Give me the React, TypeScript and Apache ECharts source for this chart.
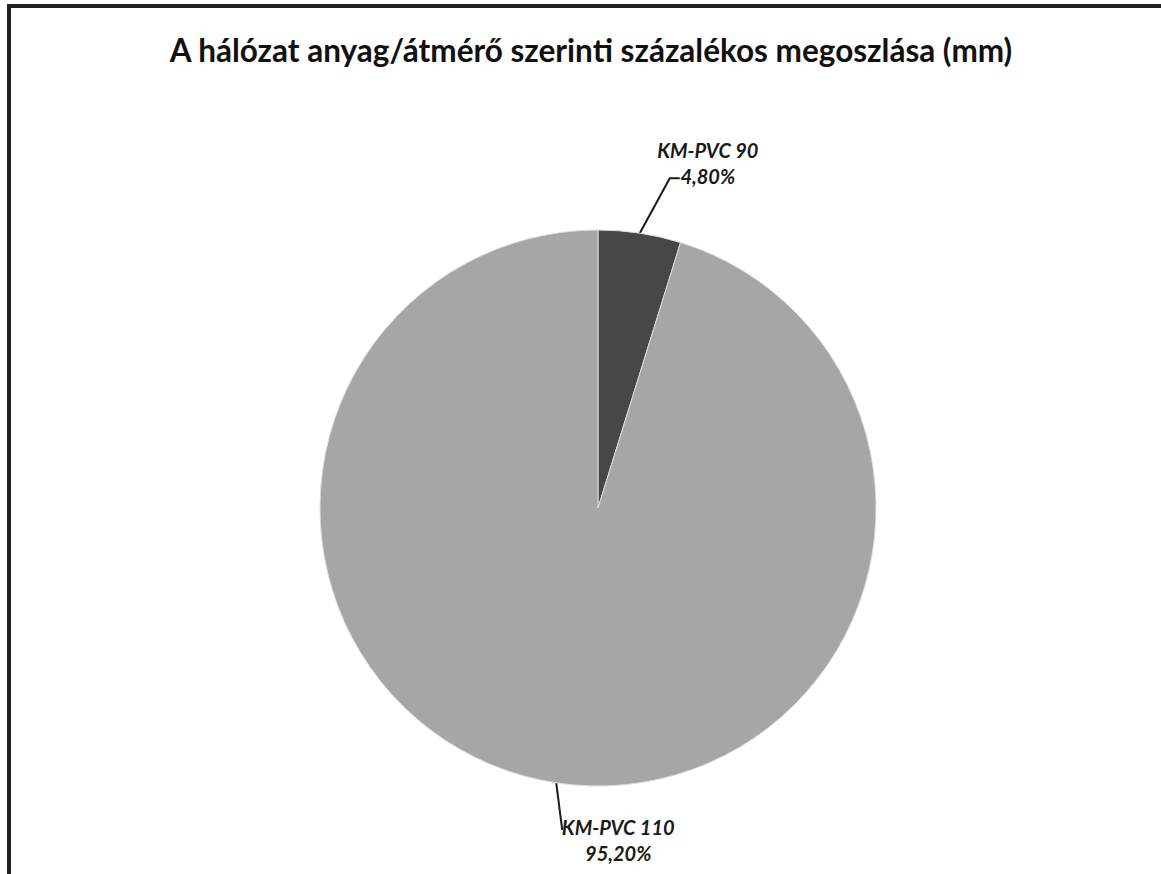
import React, { useEffect, useRef } from "react";
import * as echarts from "echarts";

const titleText = "A hálózat anyag/átmérő szerinti százalékos megoszlása (mm)";
const categories = ["KM-PVC 90", "KM-PVC 110"];
const values = [4.8, 95.2];
const valueLabels = ["4,80%", "95,20%"];
const colors = ["#474747", "#a6a6a9"];

export default function App() {
  const ref = useRef<HTMLDivElement>(null);
  useEffect(() => {
    if (!ref.current) return;
    const chart = echarts.init(ref.current, null, { renderer: "svg" });
    chart.setOption({
      animation: false,
      backgroundColor: "#ffffff",
      title: {
        text: titleText,
        left: 586,
        textAlign: "center",
        top: 29,
        textStyle: {
          fontFamily: "Lato",
          fontWeight: "bold",
          fontSize: 31.5,
          color: "#111111",
        },
      },
      graphic: [
        {
          type: "polyline",
          shape: { points: [[9, 874], [9, 6], [1161, 6]] },
          style: { stroke: "#222222", lineWidth: 4, fill: "none" },
          silent: true,
        },
      ],
      series: [
        {
          type: "pie",
          center: [598, 508],
          radius: 278,
          startAngle: 90,
          clockwise: true,
          data: categories.map((c, i) => ({
            name: c,
            value: values[i],
            itemStyle: { color: colors[i] },
          })),
          itemStyle: { borderColor: "#dcdcdc", borderWidth: 1 },
          label: {
            show: true,
            position: "outside",
            formatter: (p: any) => `{a|${p.name}}\n{a|${valueLabels[p.dataIndex]}}`,
            rich: {
              a: {
                fontFamily: "Lato",
                fontStyle: "italic",
                fontWeight: "bold",
                fontSize: 20,
                color: "#1a1a1a",
                lineHeight: 26,
                width: 130,
                align: "center",
              },
            },
          },
          labelLine: {
            show: true,
            length: 40,
            length2: 10,
            lineStyle: { color: "#1a1a1a", width: 2 },
          },
          labelLayout: (params: any) => {
            const pts = params.labelLinePoints;
            if (!pts) return {};
            const p0 = pts[0];
            if (params.dataIndex === 0) {
              return {
                x: p0[0] + 68,
                y: p0[1] - 70,
                align: "center",
                verticalAlign: "middle",
                labelLinePoints: [
                  [p0[0], p0[1]],
                  [p0[0] + 30, p0[1] - 55],
                  [p0[0] + 40, p0[1] - 55],
                ],
              };
            }
            return {
              x: p0[0] + 62,
              y: p0[1] + 57,
              align: "center",
              verticalAlign: "middle",
              labelLinePoints: [
                [p0[0], p0[1]],
                [p0[0] + 6, p0[1] + 47],
                [p0[0] + 6, p0[1] + 47],
              ],
            };
          },
        },
      ],
    });
    return () => chart.dispose();
  }, []);
  return (
    <div
      ref={ref}
      style={{ position: "fixed", left: 0, top: 0, width: 1161, height: 874 }}
    />
  );
}
